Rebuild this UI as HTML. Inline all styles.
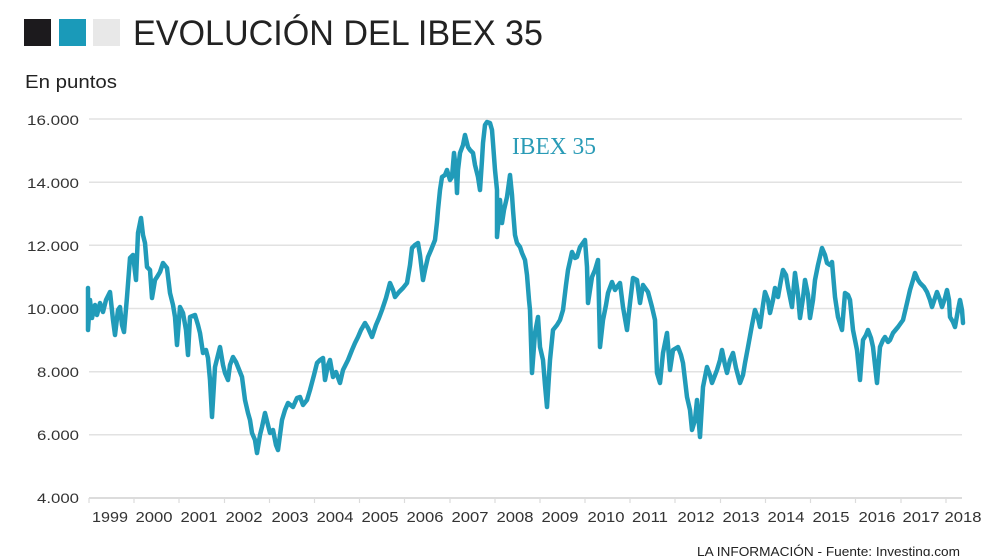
<!DOCTYPE html>
<html><head><meta charset="utf-8"><style>
html,body{margin:0;padding:0;background:#fff;}
svg{display:block;}
text{font-family:"Liberation Sans",Arial,sans-serif;}
</style></head><body>
<svg width="990" height="556" viewBox="0 0 990 556" xmlns="http://www.w3.org/2000/svg">
<rect x="0" y="0" width="990" height="556" fill="#fff"/>
<rect x="24" y="19" width="27" height="27" fill="#1c1a1d"/>
<rect x="59" y="19" width="27" height="27" fill="#1a9ab9"/>
<rect x="93" y="19" width="27" height="27" fill="#e8e8e8"/>
<text x="133" y="45" font-size="35" fill="#222" textLength="410" lengthAdjust="spacingAndGlyphs">EVOLUCIÓN DEL IBEX 35</text>
<text x="25" y="88" font-size="18" fill="#222" textLength="92" lengthAdjust="spacingAndGlyphs">En puntos</text>
<g stroke="#e2e2e2" stroke-width="1.5">
<line x1="89" y1="119" x2="962" y2="119"/>
<line x1="89" y1="182.2" x2="962" y2="182.2"/>
<line x1="89" y1="245.3" x2="962" y2="245.3"/>
<line x1="89" y1="308.5" x2="962" y2="308.5"/>
<line x1="89" y1="371.7" x2="962" y2="371.7"/>
<line x1="89" y1="434.8" x2="962" y2="434.8"/>
<line x1="89" y1="498" x2="962" y2="498" stroke="#dcdcdc" stroke-width="2"/>
</g>
<g stroke="#dcdcdc" stroke-width="1.2">
<line x1="89" y1="498" x2="89" y2="503"/><line x1="134" y1="498" x2="134" y2="503"/><line x1="179" y1="498" x2="179" y2="503"/><line x1="224.5" y1="498" x2="224.5" y2="503"/><line x1="269.5" y1="498" x2="269.5" y2="503"/><line x1="314.5" y1="498" x2="314.5" y2="503"/><line x1="359.5" y1="498" x2="359.5" y2="503"/><line x1="404.5" y1="498" x2="404.5" y2="503"/><line x1="450" y1="498" x2="450" y2="503"/><line x1="495" y1="498" x2="495" y2="503"/><line x1="540" y1="498" x2="540" y2="503"/><line x1="585" y1="498" x2="585" y2="503"/><line x1="630" y1="498" x2="630" y2="503"/><line x1="675" y1="498" x2="675" y2="503"/><line x1="720.5" y1="498" x2="720.5" y2="503"/><line x1="765.5" y1="498" x2="765.5" y2="503"/><line x1="810.5" y1="498" x2="810.5" y2="503"/><line x1="855.5" y1="498" x2="855.5" y2="503"/><line x1="901" y1="498" x2="901" y2="503"/><line x1="946" y1="498" x2="946" y2="503"/>
</g>
<g font-size="14" fill="#333" text-anchor="end">
<text x="79" y="125" textLength="52" lengthAdjust="spacingAndGlyphs">16.000</text>
<text x="79" y="188" textLength="52" lengthAdjust="spacingAndGlyphs">14.000</text>
<text x="79" y="251" textLength="52" lengthAdjust="spacingAndGlyphs">12.000</text>
<text x="79" y="314" textLength="52" lengthAdjust="spacingAndGlyphs">10.000</text>
<text x="79" y="377" textLength="42" lengthAdjust="spacingAndGlyphs">8.000</text>
<text x="79" y="440" textLength="42" lengthAdjust="spacingAndGlyphs">6.000</text>
<text x="79" y="503" textLength="42" lengthAdjust="spacingAndGlyphs">4.000</text>
</g>
<g font-size="15" fill="#333" text-anchor="middle">
<text x="110" y="522" textLength="36" lengthAdjust="spacingAndGlyphs">1999</text>
<text x="154" y="522" textLength="37" lengthAdjust="spacingAndGlyphs">2000</text>
<text x="199" y="522" textLength="37" lengthAdjust="spacingAndGlyphs">2001</text>
<text x="244" y="522" textLength="37" lengthAdjust="spacingAndGlyphs">2002</text>
<text x="290" y="522" textLength="37" lengthAdjust="spacingAndGlyphs">2003</text>
<text x="335" y="522" textLength="37" lengthAdjust="spacingAndGlyphs">2004</text>
<text x="380" y="522" textLength="37" lengthAdjust="spacingAndGlyphs">2005</text>
<text x="425" y="522" textLength="37" lengthAdjust="spacingAndGlyphs">2006</text>
<text x="470" y="522" textLength="37" lengthAdjust="spacingAndGlyphs">2007</text>
<text x="515" y="522" textLength="37" lengthAdjust="spacingAndGlyphs">2008</text>
<text x="560" y="522" textLength="37" lengthAdjust="spacingAndGlyphs">2009</text>
<text x="606" y="522" textLength="37" lengthAdjust="spacingAndGlyphs">2010</text>
<text x="650" y="522" textLength="36" lengthAdjust="spacingAndGlyphs">2011</text>
<text x="696" y="522" textLength="37" lengthAdjust="spacingAndGlyphs">2012</text>
<text x="741" y="522" textLength="37" lengthAdjust="spacingAndGlyphs">2013</text>
<text x="786" y="522" textLength="37" lengthAdjust="spacingAndGlyphs">2014</text>
<text x="831" y="522" textLength="37" lengthAdjust="spacingAndGlyphs">2015</text>
<text x="877" y="522" textLength="37" lengthAdjust="spacingAndGlyphs">2016</text>
<text x="921" y="522" textLength="37" lengthAdjust="spacingAndGlyphs">2017</text>
<text x="963" y="522" textLength="37" lengthAdjust="spacingAndGlyphs">2018</text>
</g>
<polyline fill="none" stroke="#219bb9" stroke-width="4.5" stroke-linejoin="round" stroke-linecap="round" points="
88,288 88,330 90,300 92,318 95,305 97,315 100,303 103,312 106,300 110,292 113,320 115,335 118,310 120,307 122,325 124,332 127,297 130,258 133,255 136,280 138,233 141,218 143,235 145,243 147,267 150,270 152,298 155,280 157,277 160,272 163,263 167,268 170,293 173,305 175,317 177,345 180,307 183,313 186,330 188,355 190,317 195,315 198,325 200,333 203,353 206,350 208,358 210,380 212,417 215,367 218,355 220,347 223,365 225,373 228,380 230,365 233,357 236,362 238,367 242,377 245,400 248,413 250,420 252,433 255,440 257,453 260,435 262,427 265,413 268,425 270,433 273,430 276,445 278,450 280,435 282,420 285,410 288,403 293,407 297,398 300,397
303,405 307,400 310,390 314,375 317,363 320,360 323,358 325,380 328,365 330,360 333,377 336,372 340,383 343,370 348,360 352,350 355,343 358,337 361,330 365,323 368,328 372,337 376,325 379,318 382,310 386,298 390,283 393,290 395,297 399,292 403,288 407,283 410,265 412,248 415,245 418,243 420,255 423,280 425,270 428,257 431,250 435,240 437,222 438,210 440,190 442,177 445,175 447,170 450,180 452,177 454,153 456,170 457,193 458,170 460,153 463,145 465,135 468,147 470,150 473,153 475,165 478,177 480,190 482,160 483,143 485,125 487,122 490,123 492,130 493,143 495,170 497,190 497,237 499,215 500,200 502,223 504,210 507,197 510,175 512,195 513,210 515,235 517,243 520,247 522,253 525,260 527,275 529,300 530,310 532,373 535,333 538,317 540,347 543,360 545,385 547,407 550,360 553,330 557,325 560,320 563,310 566,285 568,270 572,252 575,258 577,257 580,247 585,240 587,267 588,303 590,290 592,277 595,270 598,260 600,347 603,320 606,305 608,293 612,282 615,290 617,287 620,283 623,307 627,330 630,303 633,278 637,280 640,303 643,285 648,292 652,307 655,320 657,373 660,383 663,353 667,333 670,370 673,350 678,347 681,355 683,363 687,397 690,410 692,430 695,420 697,400 700,437 703,387 707,367 710,375 712,383 717,370 720,360 722,350 725,365 727,373 730,360 733,353 736,368 740,383 743,375 745,363 748,347 752,325 755,310 758,318 760,327 763,305 765,292 768,300 770,313 773,300 775,288 778,297 781,280 783,270 786,275 788,287 792,307 795,273 798,295 800,318 803,298 805,280 808,295 810,318 813,300 815,280 818,265 822,248 825,255 827,263 830,265 832,262 835,297 838,317 842,330 845,293 848,295 850,300 853,330 857,350 860,380 863,340 866,335 868,330 871,338 873,347 877,383 880,347 883,340 885,337 888,342 890,340 893,333 898,327 903,320 907,303 910,290 913,280 915,273 918,280 920,283 924,287 927,292 930,300 932,307 935,298 937,292 940,300 942,307 945,298 947,290 949,300 950,317 953,322 955,327 958,310 960,300 962,310 963,323"/>
<text x="512" y="154" font-size="24" fill="#2a9bb6" textLength="84" lengthAdjust="spacingAndGlyphs" style="font-family:'Liberation Serif',serif">IBEX 35</text>
<text x="960" y="556" font-size="12.5" fill="#222" text-anchor="end" textLength="263" lengthAdjust="spacingAndGlyphs">LA INFORMACIÓN - Fuente: Investing.com</text>
</svg>
</body></html>
